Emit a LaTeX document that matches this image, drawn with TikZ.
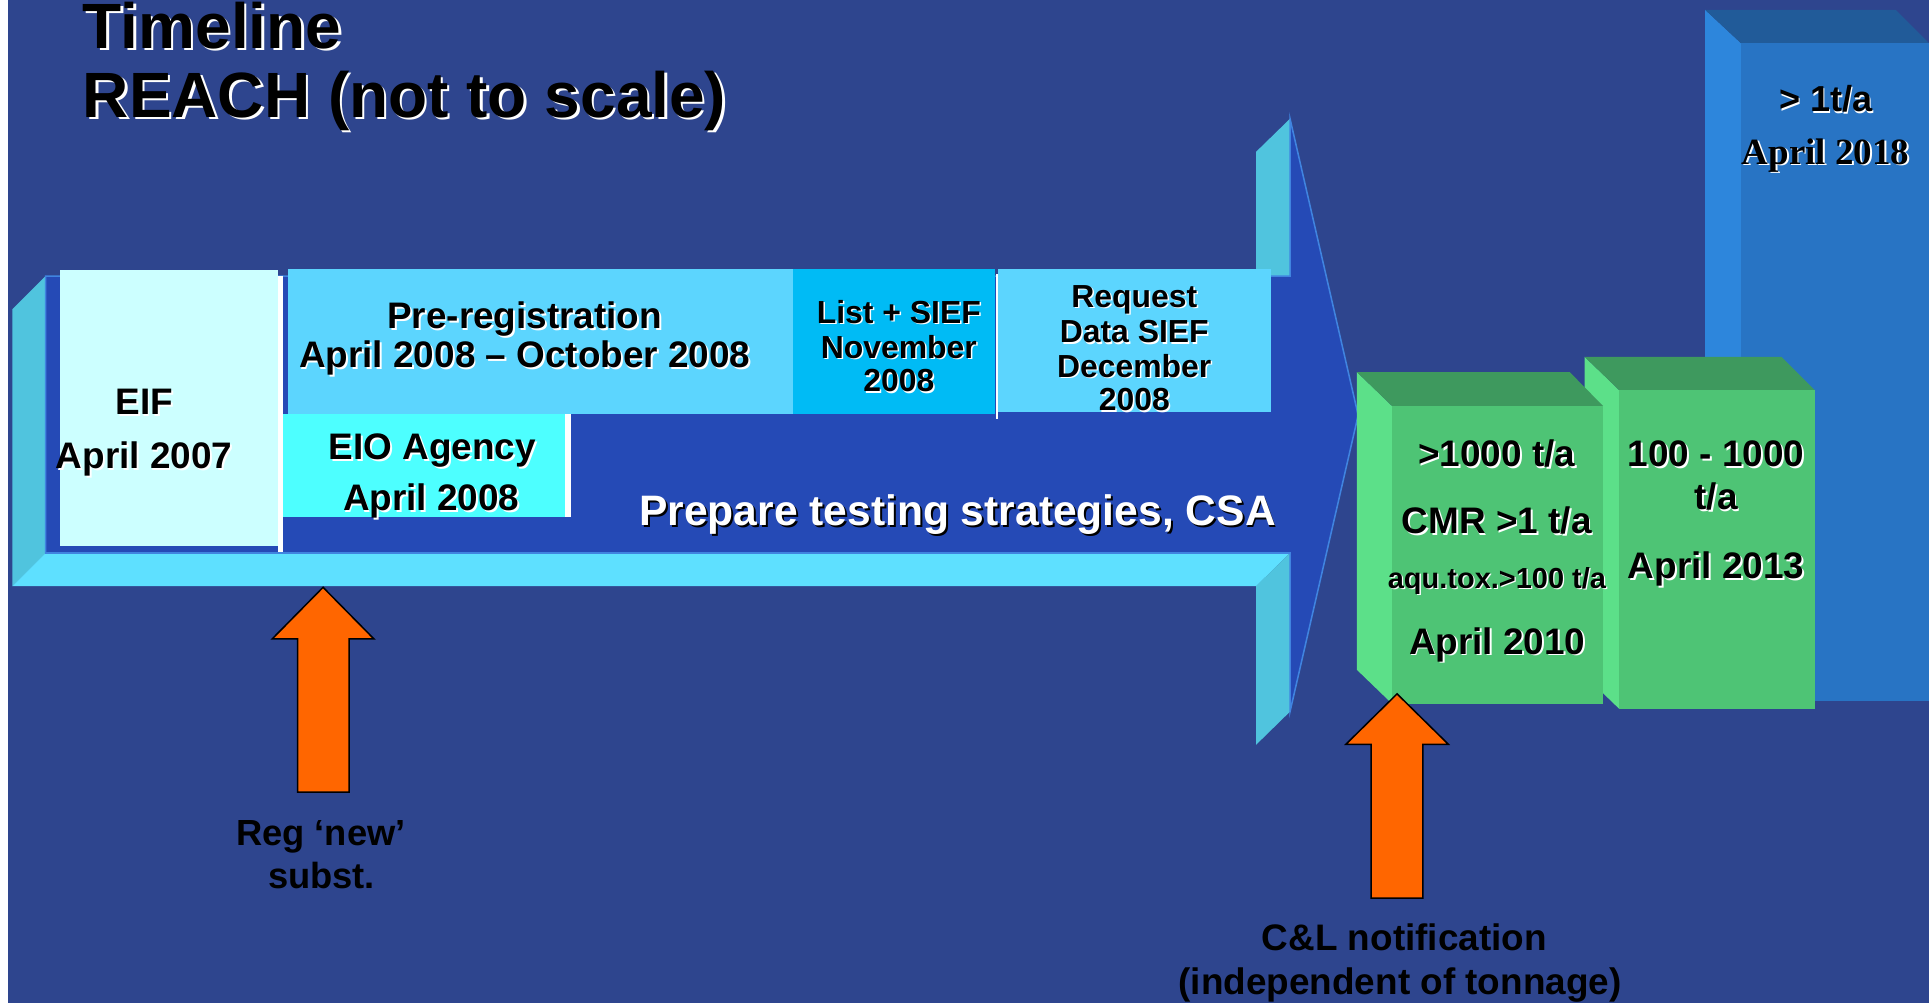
\documentclass[tikz,border=0pt]{standalone}
\usepackage{fontspec}
\setmainfont{Liberation Sans}
\newfontfamily\timesb{Liberation Serif}

\definecolor{bgblue}{RGB}{46,69,142}
\definecolor{arrfront}{RGB}{37,74,182}
\definecolor{arrside}{RGB}{80,196,222}
\definecolor{arrbottom}{RGB}{94,224,255}
\definecolor{arredge}{RGB}{64,132,224}
\definecolor{eifc}{RGB}{204,255,255}
\definecolor{prec}{RGB}{92,213,254}
\definecolor{eioc}{RGB}{77,255,255}
\definecolor{listc}{RGB}{0,187,245}
\definecolor{gfront}{RGB}{78,196,117}
\definecolor{gside}{RGB}{92,224,137}
\definecolor{gtop}{RGB}{62,153,94}
\definecolor{bfront}{RGB}{40,116,196}
\definecolor{bside}{RGB}{45,134,220}
\definecolor{btop}{RGB}{33,91,153}
\definecolor{orangeA}{RGB}{255,102,0}

\newcommand\shd[3]{\leavevmode\rlap{\kern#1\raisebox{-#1}{\color{#2}#3}}#3}

\begin{document}
\begin{tikzpicture}[x=0.2mm,y=-0.2mm,
  txt/.style={inner sep=0pt, anchor=base, text=black},
  f30/.style={font=\bfseries\fontsize{17.07pt}{20pt}\selectfont},
  f29/.style={font=\bfseries\fontsize{16.7pt}{20pt}\selectfont},
  f26/.style={font=\bfseries\fontsize{14.75pt}{17pt}\selectfont},
  f22/.style={font=\bfseries\fontsize{13.4pt}{16pt}\selectfont},
  f34/.style={font=\bfseries\fontsize{19.7pt}{23pt}\selectfont},
  f52/.style={font=\bfseries\fontsize{29.6pt}{34pt}\selectfont},
  orangearrow/.style={fill=orangeA, draw=black, line width=0.7pt, line join=miter},
  whiteline/.style={draw=white, line width=0.9mm},
]
\useasboundingbox (0,0) rectangle (1568,815);
% background
\fill[white] (0,0) rectangle (1568,815);
\fill[bgblue] (6.8,0) rectangle (1568,815);

% ---------- 3D arrow ----------
\fill[arrside] (10,251.4) -- (37,224.4) -- (37,449.5) -- (10,476.5) -- cycle;
\fill[arrbottom] (37,449.5) -- (1048.6,449.5) -- (1021,476.5) -- (10,476.5) -- cycle;
\fill[arrside] (1021,123.4) -- (1048.6,96.5) -- (1048.6,224.4) -- (1021,251.4) -- cycle;
\fill[arrside] (1021,476.5) -- (1048.6,449.5) -- (1048.6,578.4) -- (1021,605.4) -- cycle;
\filldraw[fill=arrfront, draw=arredge, line width=0.25mm, line join=miter]
  (37,224.4) -- (1048.6,224.4) -- (1048.6,96.5) -- (1104,337.5) -- (1048.6,578.4)
  -- (1048.6,449.5) -- (37,449.5) -- cycle;

% ---------- flat boxes ----------
\fill[eifc] (49,219.5) rectangle (226,444);
\fill[prec] (234,218.7) rectangle (644.6,336.6);
\fill[eioc] (230,336.6) rectangle (459.5,420);
\fill[listc] (644.6,218.7) rectangle (809,336.6);
\fill[prec] (811,218.7) rectangle (1033,335);
\draw[whiteline] (228,224) -- (228,449);
\draw[whiteline] (461.8,336.6) -- (461.8,420);
\draw[draw=white, line width=0.4mm] (810.2,222.8) -- (810.2,340.5);

\node[txt,f30] (eif1) at (117.3,337) {\shd{0.8pt}{white}{EIF}};
\node[txt,f30] (eif2) at (117.2,381) {\shd{0.8pt}{white}{April 2007}};
\node[txt,f30] (pre1) at (426.5,267) {\shd{0.8pt}{white}{Pre-registration}};
\node[txt,f30] (pre2) at (426.6,299) {\shd{0.8pt}{white}{April 2008 – October 2008}};
\node[txt,f30] (eio1) at (351.5,373.5) {\shd{0.8pt}{white}{EIO Agency}};
\node[txt,f30] (eio2) at (350.6,415) {\shd{0.8pt}{white}{April 2008}};
\node[txt,f26] (lst1) at (730.6,262.8) {\shd{0.7pt}{white}{List + SIEF}};
\node[txt,f26] (lst2) at (730.6,291) {\shd{0.7pt}{white}{November}};
\node[txt,f26] (lst3) at (730.6,318.3) {\shd{0.7pt}{white}{2008}};
\node[txt,f26] (req1) at (922,249.6) {\shd{0.7pt}{white}{Request}};
\node[txt,f26] (req2) at (922,278.4) {\shd{0.7pt}{white}{Data SIEF}};
\node[txt,f26] (req3) at (922,306.5) {\shd{0.7pt}{white}{December}};
\node[txt,f26] (req4) at (922,334) {\shd{0.7pt}{white}{2008}};
\node[txt,f34,text=white] (prep) at (778.3,427.4) {\shd{0.9pt}{black}{Prepare testing strategies, CSA}};

% ---------- 3D blocks ----------
% > 1 t/a block
\fill[bside] (1386,8) -- (1415,35) -- (1415,570) -- (1386,543) -- cycle;
\fill[btop] (1386,8) -- (1541,8) -- (1568,35) -- (1415,35) -- cycle;
\fill[bfront] (1415,35) rectangle (1568,570);
\node[txt,f29] (b3a) at (1484,90.6) {\shd{0.8pt}{white}{> 1t/a}};
\node[txt,font=\timesb\bfseries\fontsize{17.1pt}{20pt}\selectfont] (b3b) at (1484,133.4) {\shd{0.8pt}{white}{April 2018}};
% 100 - 1000 block
\fill[gside] (1288,290) -- (1316,317) -- (1316,576) -- (1288,549) -- cycle;
\fill[gtop] (1288,290) -- (1448,290) -- (1475,317) -- (1316,317) -- cycle;
\fill[gfront] (1316,317) rectangle (1475,576);
% >1000 block
\fill[gside] (1103,302.5) -- (1131.5,330) -- (1131.5,572) -- (1103,544.5) -- cycle;
\fill[gtop] (1103,302.5) -- (1276,302.5) -- (1303,330) -- (1131.5,330) -- cycle;
\fill[gfront] (1131.5,330) rectangle (1303,572);

\node[txt,f30] (b2a) at (1395,379.2) {\shd{0.8pt}{white}{100 - 1000}};
\node[txt,f30] (b2b) at (1395,414.2) {\shd{0.8pt}{white}{t/a}};
\node[txt,f30] (b2c) at (1395,470.6) {\shd{0.8pt}{white}{April 2013}};
\node[txt,f30] (b1a) at (1216.6,379.2) {\shd{0.8pt}{white}{>1000 t/a}};
\node[txt,f30] (b1b) at (1216.6,433.7) {\shd{0.8pt}{white}{CMR >1 t/a}};
\node[txt,f22] (b1c) at (1216.8,478.3) {\shd{0.6pt}{white}{aqu.tox.>100 t/a}};
\node[txt,f30] (b1d) at (1217,531.7) {\shd{0.8pt}{white}{April 2010}};

% ---------- orange arrows ----------
\coordinate (regtip) at (262.6,477.4);
\coordinate (cltip) at (1135.6,564);
\draw[orangearrow] (regtip) -- ++(41.4,42) -- ++(-20.3,0) -- ++(0,124.4) -- ++(-41.7,0)
  -- ++(0,-124.4) -- ++(-20.8,0) -- cycle;
\draw[orangearrow] (cltip) -- ++(41.7,41) -- ++(-20.8,0) -- ++(0,125) -- ++(-42,0)
  -- ++(0,-125) -- ++(-20.5,0) -- cycle;
\node[txt,font=\bfseries\fontsize{16.8pt}{20pt}\selectfont] (reg1) at (260.8,687.5) {Reg ‘new’};
\node[txt,font=\bfseries\fontsize{16.8pt}{20pt}\selectfont] (reg2) at (261.4,722.5) {subst.};
\node[txt,f30] (cl1) at (1141.5,772.5) {C\&L notification};
\node[txt,f30] (cl2) at (1138,808) {(independent of tonnage)};

% ---------- title ----------
\node[anchor=base west, inner sep=0pt, f52] (title1) at (67,39.3) {\shd{1.1pt}{white}{Timeline}};
\node[anchor=base west, inner sep=0pt, f52] (title2) at (67,95.4) {\shd{1.1pt}{white}{REACH (not to scale)}};
\end{tikzpicture}
\end{document}
